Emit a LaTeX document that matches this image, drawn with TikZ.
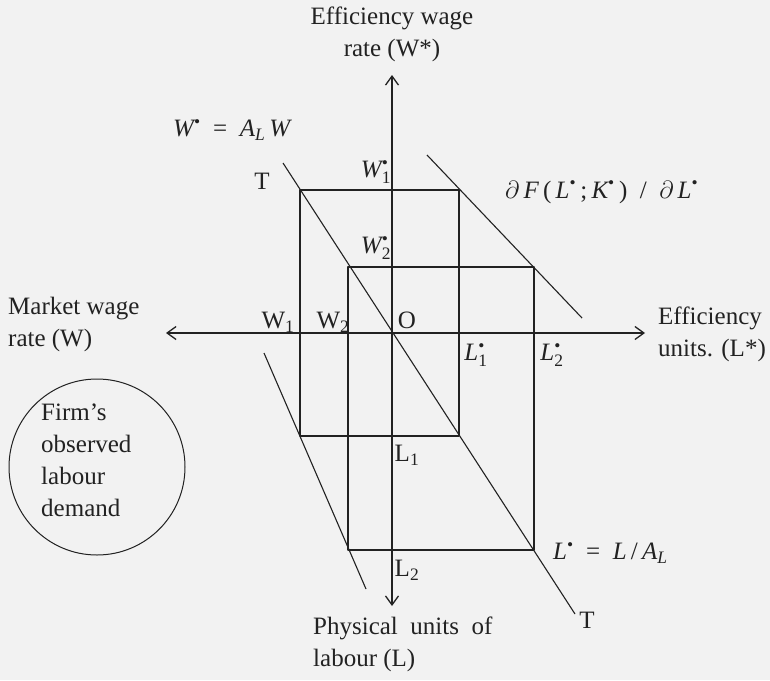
\documentclass[tikz,border=0pt]{standalone}
\usepackage{fontspec}
\setmainfont{Liberation Serif}
\usepackage{amsmath}
\usepackage{tikz}
\usetikzlibrary{arrows.meta}
\usepackage{xcolor}
\definecolor{paper}{HTML}{F2F2F2}
\definecolor{ink}{HTML}{222222}
\newcommand{\wsub}[1]{$\textit{W}^{\text{\textbullet}}_{\text{#1}}$}
\newcommand{\lsub}[1]{$\textit{L}^{\text{\textbullet}}_{\text{#1}}$}
\newcommand{\vstar}[1]{$\textit{#1}^{\text{\textbullet}}$}

\begin{document}
\begin{tikzpicture}[x=1pt, y=-1pt, line join=round,
  >={Straight Barb[length=9pt,width=13pt]},
  axis/.style={ink, line width=1.3pt, <->},
  guide/.style={ink, line width=1.1pt},
  lbl/.style={text=ink, inner sep=0pt, font=\fontsize{25}{32}\selectfont}]
  \fill[paper] (0,0) rectangle (770,680);
  \useasboundingbox (0,0) rectangle (770,680);

  % axes
  \coordinate (O) at (392,333);
  \coordinate (west) at (166,333);
  \coordinate (east) at (645,333);
  \coordinate (north) at (392,75);
  \coordinate (south) at (392,606);
  \draw[axis] (west) -- (east);
  \draw[axis] (south) -- (north);

  % schedules
  \coordinate (T1) at (283,163);
  \coordinate (T2) at (575,614);
  \coordinate (M1) at (427,155);
  \coordinate (M2) at (582,318);
  \coordinate (D1) at (264,353);
  \coordinate (D2) at (366,589);
  \draw[guide] (T1) -- (T2);
  \draw[guide] (M1) -- (M2);
  \draw[guide] (D1) -- (D2);

  % the two rectangles
  \coordinate (a1) at (300,190);
  \coordinate (c1) at (459,436);
  \coordinate (a2) at (348,267);
  \coordinate (c2) at (534,550);
  \draw[guide] (a1) rectangle (c1);
  \draw[guide] (a2) rectangle (c2);

  \node[lbl, align=center] (ytitle) at (392,34) {Efficiency wage\\rate (W*)};
  \node[lbl, anchor=west, align=left] (xwest) at (8,324) {Market wage\\rate (W)};
  \node[lbl, anchor=west, align=left] (xeast) at (658,334) {Efficiency\\units. (L*)};
  \node[lbl, anchor=west, align=left] (ysouth) at (313,644) {Physical\enspace units\enspace of\\labour (L)};

  \node[lbl, anchor=west] (wmap) at (173,130) {\vstar{W}\enspace=\enspace$\textit{A}_{\textit{L}}$\,\textit{W}};
  \node[lbl] (Ttop) at (262,181) {T};
  \node[lbl] (Tbot) at (587,620) {T};
  \node[lbl, anchor=west] (mpl) at (505,192) {$\partial$\,\textit{F}\,(\,\vstar{L}\,;\,\vstar{K}\,)\enspace/\enspace$\partial$\,\vstar{L}};
  \node[lbl, anchor=west] (lmap) at (553,553) {\vstar{L}\enspace=\enspace\textit{L}\,/\,$\textit{A}_{\textit{L}}$};

  \node[lbl] (w1s) at (376,172) {\wsub{1}};
  \node[lbl] (w2s) at (376,248) {\wsub{2}};
  \node[lbl] (w1) at (278,322) {W\textsubscript{1}};
  \node[lbl] (w2) at (333,322) {W\textsubscript{2}};
  \node[lbl] (o) at (407,320) {O};
  \node[lbl] (l1s) at (476,355) {\lsub{1}};
  \node[lbl] (l2s) at (552,355) {\lsub{2}};
  \node[lbl] (l1) at (407,455) {L\textsubscript{1}};
  \node[lbl] (l2) at (407,570) {L\textsubscript{2}};

  \node[draw=ink, line width=1pt, circle, minimum size=176pt] (firm) at (97,467) {};
  \node[lbl, anchor=west, align=left] (firmtext) at (41,460) {Firm’s\\observed\\labour\\demand};
\end{tikzpicture}
\end{document}
